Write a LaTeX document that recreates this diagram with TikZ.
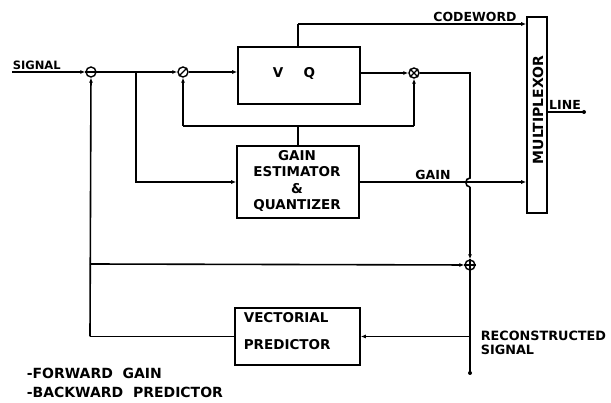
\documentclass[tikz,border=0pt]{standalone}
\usepackage{fontspec}
\setmainfont{DejaVu Sans}
\usetikzlibrary{arrows.meta}
\begin{document}
\begin{tikzpicture}[x=1pt,y=-1pt,
  line width=1.6pt,
  arr/.style={-{Latex[length=5pt,width=4pt]}},
  sumc/.style={circle,draw,line width=1.4pt,minimum size=10pt,inner sep=0pt},
  blk/.style={draw,rectangle,inner sep=0pt},
  lbl/.style={font=\bfseries\fontsize{13.5}{15}\selectfont,inner sep=0pt},
  enddot/.style={circle,fill,inner sep=0pt,minimum size=4pt}]
\useasboundingbox (0,0) rectangle (611,403);
% blocks
\node[blk,minimum width=122pt,minimum height=57pt] (vq) at (299,75.5) {};
\node[lbl] (vqt) at (294,73) {V\hspace{1.5em}Q};
\node[blk,minimum width=122pt,minimum height=72pt] (ge) at (298,182) {};
\node[lbl,align=center,font=\bfseries\fontsize{13.5}{16.3}\selectfont] (get) at (297,181) {GAIN\\ESTIMATOR\\\&\\QUANTIZER};
\node[blk,minimum width=125pt,minimum height=57pt] (pr) at (297.5,336.5) {};
\node[lbl,align=left,anchor=west,font=\bfseries\fontsize{13.5}{27}\selectfont] (prt) at (243,331) {VECTORIAL\\PREDICTOR};
\node[blk,minimum width=20pt,minimum height=196pt] (mux) at (537,115) {};
\node[lbl,rotate=90,font=\bfseries\fontsize{14}{15}\selectfont] (muxt) at (538,110) {MULTIPLEXOR};
% summing circles
\node[sumc] (c1) at (91,72) {};
\node[sumc] (c2) at (183,72) {};
\node[sumc] (c3) at (414,73) {};
\node[sumc] (c4) at (470,265) {};
\draw[line width=1.1pt] (c1.west) -- (c1.east);
\draw[line width=1.1pt] (c2.south west) -- (c2.north east);
\draw[line width=1.1pt] (c3.south west) -- (c3.north east) (c3.north west) -- (c3.south east);
\draw[line width=1.1pt] (c4.west) -- (c4.east) (c4.north) -- (c4.south);
% coordinates
\coordinate (sigin) at (12,72);
\coordinate (br) at (136,72);
\coordinate (fbl) at (183,126);
\coordinate (fbm) at (298,126);
\coordinate (fbr) at (414,126);
\coordinate (cwtop) at (298,24);
\coordinate (rc) at (470,73);
\coordinate (bump1) at (470,178);
\coordinate (bump2) at (470,187);
\coordinate (rsend) at (470,373);
\coordinate (prin) at (470,336.5);
\coordinate (prl) at (90,336.5);
\coordinate (pbr) at (90,264);
\coordinate (lineend) at (584,112);
% texts
\node[lbl,font=\bfseries\fontsize{11.5}{13}\selectfont,anchor=south west] (sigt) at (12,70) {SIGNAL};
\node[lbl,font=\bfseries\fontsize{12.5}{14}\selectfont,anchor=south] (cwt) at (475,22) {CODEWORD};
\node[lbl,font=\bfseries\fontsize{12.5}{14}\selectfont,anchor=south] (gt) at (433,180) {GAIN};
\node[lbl,font=\bfseries\fontsize{12.5}{14}\selectfont,anchor=south] (lt) at (565,110) {LINE};
\node[lbl,align=left,anchor=north west,font=\bfseries\fontsize{12.8}{14.5}\selectfont] (rst) at (480,330) {RECONSTRUCTED\\SIGNAL};
\node[lbl,align=left,anchor=west,font=\bfseries\fontsize{14}{19.5}\selectfont] (leg) at (26,383) {-FORWARD\ \ GAIN\\-BACKWARD\ \ PREDICTOR};
% connectors
\draw[arr] (sigin) -- (c1);
\draw[arr] (c1) -- (c2);
\draw[arr] (br) |- (ge.west);
\draw[arr] (c2) -- (vq.west |- c2);
\draw[arr] (vq.east |- c3) -- (c3);
\draw (vq.north -| cwtop) -- (cwtop);
\draw[arr] (cwtop) -- (cwtop -| mux.west);
\draw (ge.north -| fbm) -- (fbm);
\draw (fbl) -- (fbr);
\draw[arr] (fbl) -- (c2);
\draw[arr] (fbr) -- (c3);
\draw[arr] (ge.east |- 0,182) -- (mux.west |- 0,182);
\draw (c3) -- (rc) -- (bump1) .. controls (464.5,178) and (464.5,187) .. (bump2);
\draw[arr] (bump2) -- (c4);
\draw (c4) -- (rsend);
\node[enddot] (rsdot) at (rsend) {};
\draw[arr] (prin) -- (pr.east);
\draw (pr.west) -- (prl);
\draw[arr] (prl) -- (c1);
\draw[arr] (pbr) -- (c4);
\draw (mux.east |- lineend) -- (lineend);
\node[enddot] (ldot) at (lineend) {};
\end{tikzpicture}
\end{document}
